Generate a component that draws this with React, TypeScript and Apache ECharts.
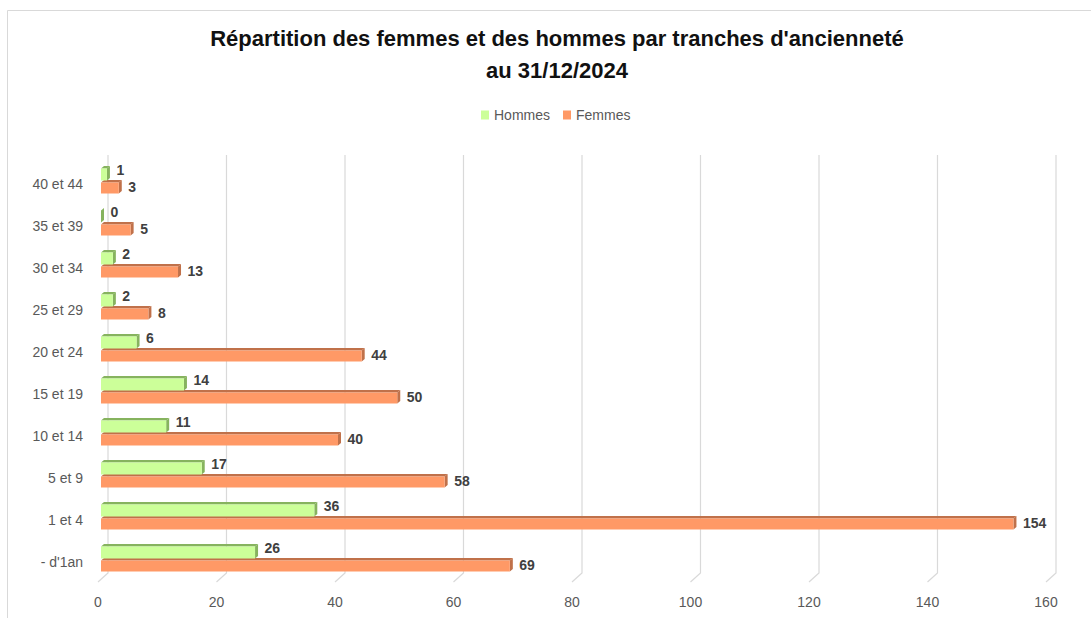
import React, { useEffect, useRef } from "react";
import * as echarts from "echarts";

const categories = ["- d'1an", "1 et 4", "5 et 9", "10 et 14", "15 et 19", "20 et 24", "25 et 29", "30 et 34", "35 et 39", "40 et 44"];
const hommes = [26, 36, 17, 11, 14, 6, 2, 2, 0, 1];
const femmes = [69, 154, 58, 40, 50, 44, 8, 13, 5, 3];
const ticks = [0, 20, 40, 60, 80, 100, 120, 140, 160];

const GREEN = "#ccff99";
const GREEN_DARK = "#86b35e";
const ORANGE = "#ff9966";
const ORANGE_DARK = "#c0714a";
const FONT = "'Liberation Sans', Arial, sans-serif";

function barRenderer(kind: "h" | "f") {
  return (params: any, api: any) => {
    const v = api.value(0);
    const ci = api.value(1);
    const p0 = api.coord([0, ci]);
    const p1 = api.coord([v, ci]);
    const x0 = p0[0];
    const x1 = p1[0];
    const yc = p0[1];
    const dx = 3;
    const dy = 2.5;
    const yt = kind === "h" ? yc - 15.5 : yc - 1.5;
    const h = kind === "h" ? 12 : 11;
    const front = kind === "h" ? GREEN : ORANGE;
    const dark = kind === "h" ? GREEN_DARK : ORANGE_DARK;
    return {
      type: "group",
      children: [
        {
          type: "polygon",
          shape: { points: [[x0, yt], [x0 + dx, yt - dy], [x1 + dx, yt - dy], [x1, yt]] },
          style: { fill: dark },
        },
        {
          type: "polygon",
          shape: { points: [[x1, yt], [x1 + dx, yt - dy], [x1 + dx, yt + h - dy], [x1, yt + h]] },
          style: { fill: dark },
        },
        {
          type: "rect",
          shape: { x: x0, y: yt, width: Math.max(0, x1 - x0), height: h },
          style: { fill: front },
        },
        {
          type: "text",
          style: {
            text: String(v),
            x: x1 + 9.5,
            y: kind === "h" ? yc - 14 : yc + 3,
            verticalAlign: "middle",
            align: "left",
            fill: "#404040",
            font: `bold 14px ${FONT}`,
          },
        },
      ],
    };
  };
}

export default function App() {
  const ref = useRef<HTMLDivElement>(null);
  useEffect(() => {
    if (!ref.current) return;
    const chart = echarts.init(ref.current, null, { renderer: "svg" });
    const option: any = {
      animation: false,
      backgroundColor: "#ffffff",
      graphic: [
        {
          type: "rect",
          silent: true,
          shape: { x: 7.5, y: 10.5, width: 1200, height: 700 },
          style: { fill: "none", stroke: "#d9d9d9", lineWidth: 1 },
        },
      ],
      title: {
        text: "Répartition des femmes et des hommes par tranches d'ancienneté\nau 31/12/2024",
        left: 557,
        textAlign: "center",
        top: 22,
        padding: 0,
        textStyle: {
          fontFamily: FONT,
          fontSize: 22,
          fontWeight: "bold",
          color: "#111111",
          lineHeight: 32,
        },
      },
      legend: {
        left: 481,
        top: 108,
        padding: 0,
        itemWidth: 8,
        itemHeight: 9,
        itemGap: 13,
        icon: "rect",
        selectedMode: false,
        textStyle: { fontFamily: FONT, fontSize: 14, color: "#595959" },
        data: [
          { name: "Hommes", itemStyle: { color: GREEN } },
          { name: "Femmes", itemStyle: { color: ORANGE } },
        ],
      },
      grid: { left: 101, right: 42, top: 163, bottom: 35, containLabel: false },
      xAxis: {
        type: "value",
        min: 0,
        max: 160,
        interval: 20,
        axisLine: { show: false },
        axisTick: { show: false },
        splitLine: { show: false },
        axisLabel: { fontFamily: FONT, fontSize: 14, color: "#595959", margin: 12, padding: [0, 6, 0, 0] },
      },
      yAxis: {
        type: "category",
        data: categories,
        axisLine: { show: false },
        axisTick: { show: false },
        splitLine: { show: false },
        axisLabel: { fontFamily: FONT, fontSize: 14, color: "#595959", margin: 18 },
      },
      series: [
        {
          name: "grid",
          type: "custom",
          silent: true,
          clip: false,
          data: ticks.map((t) => [t, 0]),
          encode: { x: 0, y: 1 },
          renderItem: (params: any, api: any) => {
            const x = api.coord([api.value(0), 0])[0];
            const cs = params.coordSys;
            const top = cs.y - 8;
            const bottom = cs.y + cs.height - 10;
            return {
              type: "polyline",
              shape: { points: [[x + 7, top], [x + 7, bottom], [x - 3, bottom + 9]] },
              style: { stroke: "#d9d9d9", lineWidth: 1.2, fill: "none" },
            };
          },
        },
        {
          name: "Femmes",
          type: "custom",
          silent: true,
          clip: false,
          itemStyle: { color: ORANGE },
          data: femmes.map((v, i) => [v, i]),
          encode: { x: 0, y: 1 },
          renderItem: barRenderer("f"),
        },
        {
          name: "Hommes",
          type: "custom",
          silent: true,
          clip: false,
          itemStyle: { color: GREEN },
          data: hommes.map((v, i) => [v, i]),
          encode: { x: 0, y: 1 },
          renderItem: barRenderer("h"),
        },
      ],
    };
    chart.setOption(option);
    return () => chart.dispose();
  }, []);
  return (
    <div
      ref={ref}
      style={{ position: "absolute", left: 0, top: 0, width: 1091, height: 618 }}
    />
  );
}
